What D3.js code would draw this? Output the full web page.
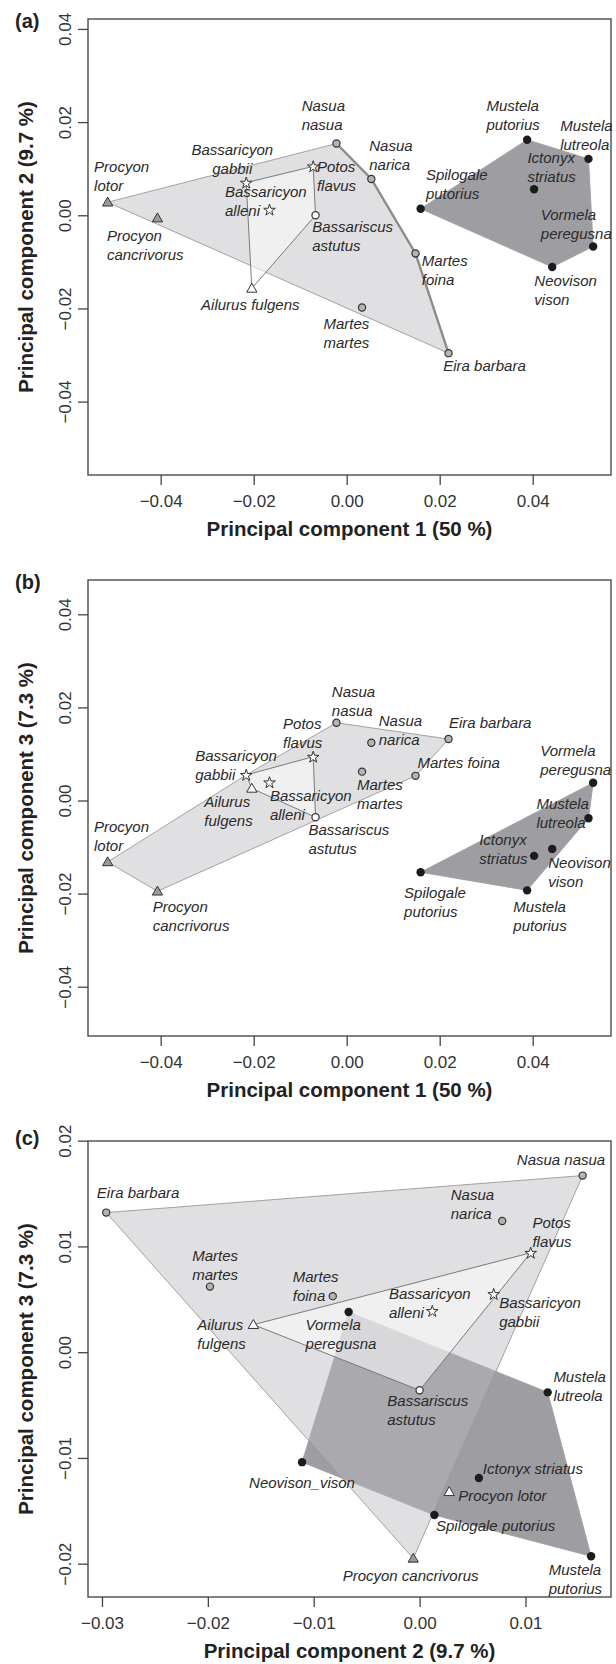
<!DOCTYPE html>
<html lang="en">
<head>
<meta charset="utf-8">
<title>PCA panels</title>
<script src="https://d3js.org/d3.v7.min.js"></script>
<style>
body{margin:0;background:#fff;}
svg{display:block;font-family:"Liberation Sans",Arial,sans-serif;}
.lab{font-style:italic;font-size:15px;fill:#2a2a2a;}
.ttl{font-size:20.5px;font-weight:bold;fill:#222;}
.key{font-size:20px;font-weight:bold;fill:#222;}
</style>
</head>
<body>
<script>
// species scores on the first three principal components
var species = ["Procyon lotor","Procyon cancrivorus","Bassaricyon gabbii","Bassaricyon alleni","Potos flavus",
  "Bassariscus astutus","Nasua nasua","Nasua narica","Martes martes","Martes foina","Eira barbara",
  "Ailurus fulgens","Spilogale putorius","Mustela putorius","Mustela lutreola","Ictonyx striatus",
  "Vormela peregusna","Neovison vison"];
var pc1 = [-0.0514,-0.0407,-0.0216,-0.0166,-0.0072,-0.0067,-0.0022,0.0053,0.0033,0.0148,0.0219,
  -0.0204,0.0159,0.0388,0.0520,0.0403,0.0530,0.0442];
var pc2 = [0.0028,-0.0006,0.0070,0.0012,0.0105,0.0000,0.0154,0.0078,-0.0198,-0.0082,-0.0296,
  -0.0157,0.0014,0.0162,0.0121,0.0056,-0.0067,-0.0111];
var pc3 = [-0.0132,-0.0195,0.0055,0.0039,0.0094,-0.0036,0.0167,0.0124,0.0062,0.0053,0.0132,
  0.0026,-0.0154,-0.0193,-0.0038,-0.0119,0.0038,-0.0104];

// symbol groups: P grey triangle, A open triangle, X open triangle (no hull),
// S star, B open circle, G grey circle, K black circle
var groupA = ["P","P","S","S","S","B","G","G","G","G","G","A","K","K","K","K","K","K"];
var groupB = ["P","P","S","S","S","B","G","G","G","G","G","A","K","K","K","K","K","K"];
var groupC = ["X","P","S","S","S","B","G","G","G","G","G","A","K","K","K","K","K","K"];

var ticksPC1 = [-0.04,-0.02,0,0.02,0.04];
var ticksC_x = [-0.03,-0.02,-0.01,0,0.01];
var ticksC_y = [-0.02,-0.01,0,0.01,0.02];

// label placement: [text, dx, dy, anchor]
var labelA = [["Procyon\nlotor",-13.6,-30],["Procyon\ncancrivorus",-50.5,22.8],["Bassaricyon\ngabbii",-14,-27.2,"middle"],
  ["Bassaricyon\nalleni",-44.5,-12.9],["Potos\nflavus",3.7,5.7],["Bassariscus\nastutus",-3.3,17],
  ["Nasua\nnasua",-34.8,-32.2],["Nasua\nnarica",-2.1,-28],["Martes\nmartes",-38.5,21.8],["Martes\nfoina",6.3,12.2],
  ["Eira barbara",-5.3,18.2],["Ailurus fulgens",-50.7,21.5],["Spilogale\nputorius",5.3,-28.5],
  ["Mustela\nputorius",-40.7,-28.5],["Mustela\nlutreola",-28.3,-28.2],["Ictonyx\nstriatus",-6.7,-25.8],
  ["Vormela\nperegusna",-52.3,-26.5],["Neovison\nvison",-17.9,18.8]];
var labelB = [["Procyon\nlotor",-13.7,-30.2],["Procyon\ncancrivorus",-4.7,20.5],["Bassaricyon\ngabbii",-51,-14.2],
  ["Bassaricyon\nalleni",0.4,18.2],["Potos\nflavus",-30.1,-28.2],["Bassariscus\nastutus",-7.1,18.2],
  ["Nasua\nnasua",-4.6,-25.5],["Nasua\nnarica",7.4,-17.2],["Martes\nmartes",-5.1,18.1],["Martes foina",1.9,-7.9],
  ["Eira barbara",0.4,-11.5],["Ailurus\nfulgens",-47.5,18.2],["Spilogale\nputorius",-16.5,25.9],
  ["Mustela\nputorius",-13.8,22.1],["Mustela\nlutreola",-52.1,-9.2],["Ictonyx\nstriatus",-54.9,-11.2],
  ["Vormela\nperegusna",-52.9,-26.5],["Neovison\nvison",-4,18.8]];
var labelC = [["Procyon lotor",9,9.5],["Procyon cancrivorus",-70.6,22.2],["Bassaricyon\ngabbii",5.5,13.6],
  ["Bassaricyon\nalleni",-43.4,-11.5],["Potos\nflavus",1.7,-25.2],["Bassariscus\nastutus",-32.3,15.5],
  ["Nasua nasua",-65.8,-10.8],["Nasua\nnarica",-51.4,-20.6],["Martes\nmartes",-17.8,-25.8],["Martes\nfoina",-40,-13.8],
  ["Eira barbara",-9.4,-14.5],["Ailurus\nfulgens",-56,5.5],["Spilogale putorius",1.6,16.2],
  ["Mustela\nputorius",-42.4,18.8],["Mustela\nlutreola",5.7,-10.5],["Ictonyx striatus",4,-3.8],
  ["Vormela\nperegusna",-43.1,17.5],["Neovison_vison",-53,25.5]];

var panels = [
  {key:"(a)", top:19, keyY:28, xs:pc1, ys:pc2, xDom:[-0.05563,0.05684], yDom:[-0.05575,0.04213],
   xTicks:ticksPC1, yTicks:ticksPC1, xTitle:"Principal component 1 (50 %)", yTitle:"Principal component 2 (9.7 %)",
   groups:groupA, labels:labelA, edge:[6,7,9,10]},
  {key:"(b)", top:580, keyY:589, xs:pc1, ys:pc3, xDom:[-0.05563,0.05684], yDom:[-0.05059,0.04737],
   xTicks:ticksPC1, yTicks:ticksPC1, xTitle:"Principal component 1 (50 %)", yTitle:"Principal component 3 (7.3 %)",
   groups:groupB, labels:labelB, edge:null},
  {key:"(c)", top:1141, keyY:1145, xs:pc2, ys:pc3, xDom:[-0.03132,0.01808], yDom:[-0.02315,0.01997],
   xTicks:ticksC_x, yTicks:ticksC_y, xTitle:"Principal component 2 (9.7 %)", yTitle:"Principal component 3 (7.3 %)",
   groups:groupC, labels:labelC, edge:null}
];

var W = 616, H = 1664;
var left = 88, right = 611, ph = 456;
var fmt = d3.format(".2f");

var svg = d3.select("body").append("svg").attr("width", W).attr("height", H);

var bigSet = "PSBG", innerSet = "ASB", darkSet = "K";

panels.forEach(function(p){
  var x = d3.scaleLinear().domain(p.xDom).range([left, right]);
  var y = d3.scaleLinear().domain(p.yDom).range([p.top + ph, p.top]);
  var g = svg.append("g");

  function hull(set){
    var pts = [];
    p.groups.forEach(function(c, i){ if(set.indexOf(c) >= 0) pts.push([x(p.xs[i]), y(p.ys[i])]); });
    var h = d3.polygonHull(pts);
    return "M" + h.join("L") + "Z";
  }

  g.append("path").attr("d", hull(darkSet)).attr("fill", "#9e9ea2").attr("stroke", "#a4a4a7").attr("stroke-width", 1);
  g.append("path").attr("d", hull(bigSet)).attr("fill", "rgb(185,185,190)").attr("fill-opacity", 0.44)
    .attr("stroke", "#999").attr("stroke-width", 0.9);
  g.append("path").attr("d", hull(innerSet)).attr("fill", "rgb(252,252,253)").attr("fill-opacity", 0.57)
    .attr("stroke", "#6e6e6e").attr("stroke-width", 0.9);

  if(p.edge){
    g.append("path")
      .attr("d", d3.line()(p.edge.map(function(i){ return [x(p.xs[i]), y(p.ys[i])]; })))
      .attr("fill", "none").attr("stroke", "#8c8c8c").attr("stroke-width", 2.4);
  }

  // box
  g.append("rect").attr("x", left).attr("y", p.top).attr("width", right - left).attr("height", ph)
    .attr("fill", "none").attr("stroke", "#4a4a4a").attr("stroke-width", 1.4);

  // axes
  var xa = g.append("g").attr("transform", "translate(0," + (p.top + ph) + ")")
    .call(d3.axisBottom(x).tickValues(p.xTicks).tickSize(10).tickSizeOuter(0).tickPadding(10).tickFormat(fmt));
  xa.select(".domain").remove();
  xa.attr("font-size", 17).attr("font-family", null);
  xa.selectAll("line").attr("stroke", "#444").attr("stroke-width", 1.3);
  xa.selectAll("text").attr("fill", "#333");

  var ya = g.append("g").attr("transform", "translate(" + left + ",0)")
    .call(d3.axisLeft(y).tickValues(p.yTicks).tickSize(10).tickSizeOuter(0).tickFormat(fmt));
  ya.select(".domain").remove();
  ya.attr("font-size", 17).attr("font-family", null);
  ya.selectAll("line").attr("stroke", "#444").attr("stroke-width", 1.3);
  ya.selectAll("text").attr("fill", "#333").attr("x", null).attr("dy", null)
    .attr("text-anchor", "middle").attr("transform", "translate(-17,0) rotate(-90)");

  // points
  p.groups.forEach(function(c, i){
    var cx = x(p.xs[i]), cy = y(p.ys[i]);
    if(c === "K"){
      g.append("circle").attr("cx", cx).attr("cy", cy).attr("r", 4.2).attr("fill", "#1c1c1c");
    } else if(c === "G" || c === "B"){
      g.append("circle").attr("cx", cx).attr("cy", cy).attr("r", 3.6)
        .attr("fill", c === "G" ? "#b4b4b4" : "#fff").attr("stroke", "#333").attr("stroke-width", 1.2);
    } else {
      var type = c === "S" ? d3.symbolStar : d3.symbolTriangle;
      var size = c === "S" ? 42 : 46;
      g.append("path").attr("d", d3.symbol().type(type).size(size)())
        .attr("transform", "translate(" + cx + "," + (cy + (c === "S" ? 0.5 : 0.8)) + ")")
        .attr("fill", c === "P" ? "#9a9a9a" : "#fff").attr("stroke", "#333").attr("stroke-width", 1);
    }
  });

  // labels
  p.labels.forEach(function(l, i){
    var cx = x(p.xs[i]), cy = y(p.ys[i]);
    var t = g.append("text").attr("class", "lab")
      .attr("text-anchor", l[3] || "start");
    l[0].split("\n").forEach(function(line, k){
      t.append("tspan").attr("x", cx + l[1]).attr("y", cy + l[2] + k * 19).text(line);
    });
  });

  // titles
  g.append("text").attr("class", "ttl").attr("x", (left + right) / 2).attr("y", p.top + ph + 61)
    .attr("text-anchor", "middle").text(p.xTitle);
  g.append("text").attr("class", "ttl").attr("text-anchor", "middle")
    .attr("transform", "translate(33," + (p.top + ph / 2) + ") rotate(-90)").text(p.yTitle);
  g.append("text").attr("class", "key").attr("x", 15).attr("y", p.keyY).text(p.key);
});
</script>
</body>
</html>
